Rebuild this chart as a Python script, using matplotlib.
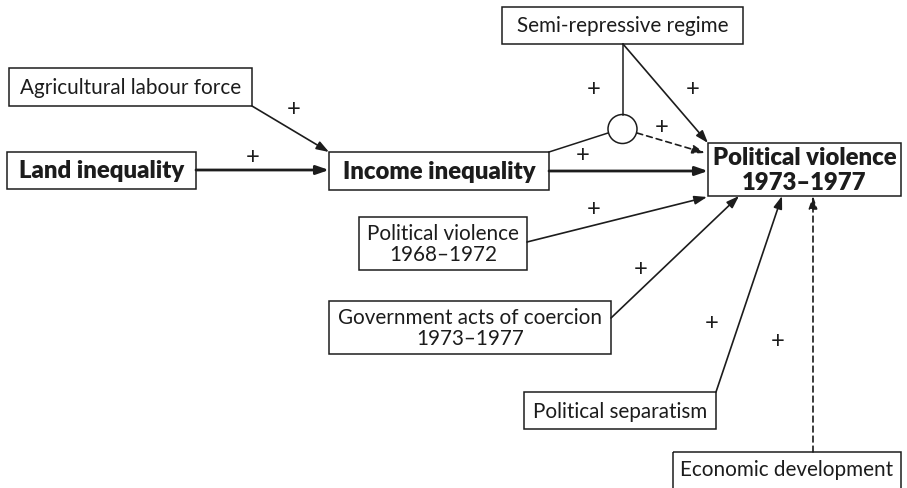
import matplotlib
matplotlib.use("Agg")
import matplotlib.pyplot as plt
from matplotlib.patches import Rectangle, Circle, FancyArrowPatch

# ---- data: node labels and link signs ----
node_names = ["agri", "land", "income", "semi", "pv7377", "pv6872", "gov", "sep", "econ"]
node_labels = ["Agricultural labour force", "Land inequality", "Income inequality",
               "Semi-repressive regime", "Political violence\n1973\u20131977",
               "Political violence\n1968\u20131972", "Government acts of coercion\n1973\u20131977",
               "Political separatism", "Economic development"]
node_bold = [False, True, True, False, True, False, False, False, False]
link_signs = ["+", "+", "+", "+", "+", "+", "+", "+", "+", "+"]

# ---- layout (pixel coordinates, y downwards) ----
boxes = {
    "agri": (9, 68, 252, 106),
    "land": (7, 152, 196, 189),
    "income": (329, 152, 549, 190),
    "semi": (502, 7, 743, 44),
    "pv7377": (708, 143, 901, 196),
    "pv6872": (359, 217, 527, 270),
    "gov": (329, 301, 611, 354),
    "sep": (524, 392, 716, 429),
    "econ": (673, 452, 901, 495),
}
circle_c = (622.5, 129)
circle_r = 14.5

# arrows: (start, end, dashed, lw)
arrows = [
    ((252, 106), (329, 152), False, 1.2),
    ((196, 170), (329, 170), False, 2.0),
    ((549, 171), (708, 171), False, 2.0),
    ((623, 44), (708, 143), False, 1.2),
    ((637, 133), (705, 153), True, 1.2),
    ((527, 242), (707, 197), False, 1.2),
    ((611, 318), (739, 196), False, 1.2),
    ((716, 392), (782, 196), False, 1.2),
    ((813, 452), (813, 196), True, 1.2),
]
plain_lines = [
    ((549, 152), (608, 133)),
    ((623, 44), (623, 114.5)),
]
sign_pos = [(294, 110), (253, 157), (594, 89), (693, 89), (662, 128), (583, 156),
            (594, 209), (641, 269), (712, 323), (778, 341)]

W, H = 907, 488
fig = plt.figure(figsize=(W / 100, H / 100), dpi=100)
ax = fig.add_axes([0, 0, 1, 1])
ax.set_xlim(0, W)
ax.set_ylim(H, 0)
ax.axis("off")

font = "Lato"
ink = "#1c1c1c"
for name, label, bold in zip(node_names, node_labels, node_bold):
    x0, y0, x1, y1 = boxes[name]
    ax.add_patch(Rectangle((x0, y0), x1 - x0, y1 - y0, fill=False, lw=1.1, ec=ink))
    cy = (y0 + y1) / 2 if name != "econ" else 469
    ax.text((x0 + x1) / 2, cy + 1, label, ha="center", va="center",
            fontsize=17.2 if bold else 14.9, fontweight="heavy" if bold else "normal",
            family=font, color=ink, linespacing=1.12)

ax.add_patch(Circle(circle_c, circle_r, fill=False, lw=1.1, ec=ink))

for (a, b) in plain_lines:
    ax.plot([a[0], b[0]], [a[1], b[1]], color=ink, lw=1.1)

for (s, e, dashed, lw) in arrows:
    ar = FancyArrowPatch(s, e, arrowstyle="-|>,head_length=7.5,head_width=2.6",
                         mutation_scale=1.0, lw=lw, color=ink,
                         linestyle=(0, (3.5, 2.5)) if dashed else "-",
                         shrinkA=0, shrinkB=0)
    ax.add_patch(ar)

for sgn, (x, y) in zip(link_signs, sign_pos):
    ax.text(x, y, sgn, ha="center", va="center", fontsize=17, family=font, color=ink)

fig.savefig("out.png", dpi=100)
